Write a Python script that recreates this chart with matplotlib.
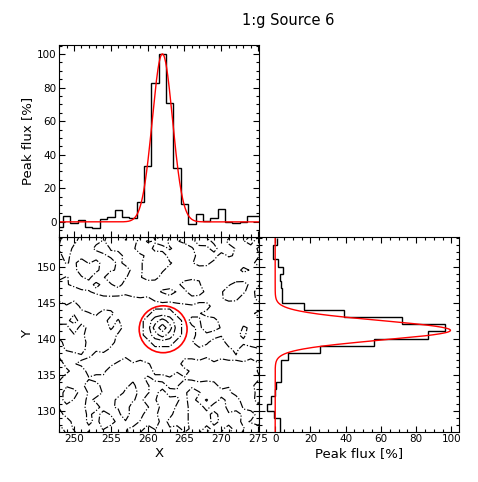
import numpy as np
import matplotlib
matplotlib.use("Agg")
import matplotlib.pyplot as plt
from matplotlib.ticker import MultipleLocator, AutoMinorLocator
from matplotlib.patches import Circle

title = "1:g Source 6"

# X profile (top panel): pixel centres and peak flux [%]
x_pix = list(range(248, 276))
x_flux = [-3.3, 3.5, -0.4, 1.2, -2.8, -3.5, 2.0, 3.1, 7.1, 3.1, 2.6, 12.0,
          33.0, 82.7, 100.0, 71.0, 32.0, 10.5, -1.4, 4.9, 0.6, 2.6, 7.5,
          0.0, -0.6, 0.0, 3.3, 3.3]

# Y profile (right panel): bins of 1 pixel, lower edges 127..153
y_lo = list(range(127, 154))
y_flux = [2.8, 2.8, -0.6, -4.4, -2.4, -0.2, 0.4, 3.2, 3.2, 3.2, 7.0, 25.2,
          56.3, 86.7, 96.2, 72.0, 39.3, 16.1, 3.6, 3.6, 3.2, 2.8, 4.7, 1.7,
          -1.5, -1.5, 1.0]

# Gaussian fit parameters (amplitude, centre, sigma)
fit_x = (100.0, 262.0, 1.38)
fit_y = (99.5, 141.15, 1.35)

# source circle
circle_xy = (262.1, 141.3)
circle_r = 3.25

# image map (coded pixel levels), top row first (y = 154.5 ... 126.5),
# columns x = 248 ... 276
img_rows = [
    "27841163471182452481843711472",
    "48621352142745834671268324715",
    "58312684214673253147628741258",
    "37124136821457824136872541347",
    "25384721631468753247631242364",
    "41378624573468532121231426421",
    "35246148752476312234213421213",
    "75312634721212313785212467346",
    "87865312121213574387324785367",
    "67687876786563121122124653268",
    "24168787667" "6788876" "57812132413",
    "21434613786" "68AAA86" "75213421363",
    "13724127488" "8ABCBA8" "24872413121",
    "86173425367" "8ACDCA8" "63874215421",
    "78562413587" "8ABCBA8" "72314236141",
    "28673142768" "68AAA86" "51387243124",
    "35781426576" "6788876" "76857638756",
    "42134687857" "7865776" "67586758676",
    "82468786314" "2467881" "12131243142",
    "86217861342" "4168757" "34231212157",
    "61324132413" "2631424" "41323121238",
    "24137814236" "1478247" "68772413285",
    "27815742168" "2471856" "14867623172",
    "18426341785" "3751246" "27483681362",
    "42318724572" "1482357" "21712684132",
    "72416274381" "2861378" "13272416823",
    "78216378241" "5782687" "24173126417",
    "27413251346" "7251427" "31723814786",
    "14728312437" "2417312" "18326427316",
]
val_map = {"1": -1.17, "2": -0.83, "3": -0.5, "4": -0.17, "5": 0.17,
           "6": 0.5, "7": 0.83, "8": 1.17,
           "A": 2.0, "B": 3.0, "C": 4.0, "D": 6.0}
img_levels = [0.0, 1.5, 2.5, 3.5, 5.0]

fig = plt.figure(figsize=(4.78, 4.82), dpi=100)
ax_main = fig.add_axes([0.124, 0.1044, 0.4184, 0.404])
ax_top = fig.add_axes([0.124, 0.5083, 0.4184, 0.399], sharex=ax_main)
ax_right = fig.add_axes([0.5425, 0.1044, 0.4184, 0.404], sharey=ax_main)

tick_fs = 7.5
lab_fs = 9.5

# main contour panel
Z = np.array([[val_map[c] for c in row] for row in img_rows])
gx = np.arange(248, 248 + Z.shape[1])
gy = 154.5 - np.arange(Z.shape[0])
ax_main.contour(gx, gy, Z, levels=img_levels, colors="k",
                linestyles="-.", linewidths=0.85)
ax_main.add_patch(Circle(circle_xy, circle_r, fill=False, color="red", lw=1.2))
ax_main.set_xlim(248, 275.15)
ax_main.set_ylim(127.1, 154.1)
ax_main.xaxis.set_major_locator(MultipleLocator(5))
ax_main.yaxis.set_major_locator(MultipleLocator(5))
ax_main.xaxis.set_minor_locator(MultipleLocator(1))
ax_main.yaxis.set_minor_locator(MultipleLocator(1))
ax_main.set_xlabel("X", fontsize=lab_fs, labelpad=2)
ax_main.set_ylabel("Y", fontsize=lab_fs, labelpad=2)

# top profile
edges_x = np.array(x_pix + [x_pix[-1] + 1]) - 0.5
ax_top.stairs(x_flux, edges_x, baseline=None, color="k", lw=1.0)
xs = np.linspace(247.5, 275.5, 400)
a, c, s = fit_x
ax_top.plot(xs, a * np.exp(-0.5 * ((xs - c) / s) ** 2), color="red", lw=1.0)
ax_top.set_ylim(-9, 105.5)
ax_top.yaxis.set_major_locator(MultipleLocator(20))
ax_top.yaxis.set_minor_locator(AutoMinorLocator(4))
ax_top.set_ylabel("Peak flux [%]", fontsize=lab_fs, labelpad=2)
ax_top.tick_params(labelbottom=False)

# right profile
edges_y = np.array(y_lo + [y_lo[-1] + 1])
ax_right.stairs(y_flux, edges_y, orientation="horizontal", baseline=None,
                color="k", lw=1.0)
ys = np.linspace(126.5, 154.5, 400)
a, c, s = fit_y
ax_right.plot(a * np.exp(-0.5 * ((ys - c) / s) ** 2), ys, color="red", lw=1.0)
ax_right.set_xlim(-9, 104.5)
ax_right.xaxis.set_major_locator(MultipleLocator(20))
ax_right.xaxis.set_minor_locator(AutoMinorLocator(4))
ax_right.set_xlabel("Peak flux [%]", fontsize=lab_fs, labelpad=2)
ax_right.tick_params(labelleft=False)

for ax in (ax_main, ax_top, ax_right):
    ax.tick_params(which="both", direction="in", top=True, right=True,
                   labelsize=tick_fs, width=0.8, pad=2)
    ax.tick_params(which="major", length=4)
    ax.tick_params(which="minor", length=2)
    for sp in ax.spines.values():
        sp.set_linewidth(0.8)

fig.text(0.602, 0.957, title, ha="center", va="center", fontsize=10.5)

fig.savefig("out.png", dpi=100)
